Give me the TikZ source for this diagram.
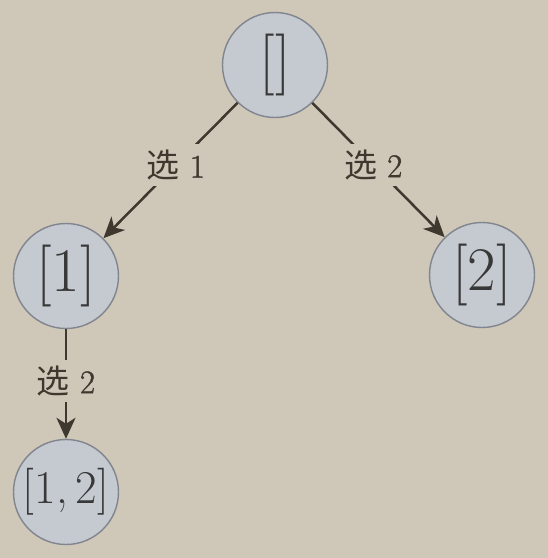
\documentclass[tikz,border=0pt]{standalone}
\usepackage{fontspec}
\newfontfamily\cjk{Noto Sans CJK SC}
\newfontfamily\labelnum[FakeBold=1.2]{Latin Modern Roman}
\usetikzlibrary{arrows.meta}
\definecolor{paper}{RGB}{207,199,184}
\definecolor{nodefill}{RGB}{197,202,208}
\definecolor{nodeedge}{RGB}{128,133,143}
\definecolor{ink}{RGB}{62,56,46}
\tikzset{
  state/.style={circle, draw=nodeedge, line width=1.4pt, fill=nodefill,
    minimum size=105pt, inner sep=0pt, text=black!78,
    font=\fontsize{62}{70}\selectfont},
  smallstate/.style={state, font=\fontsize{47}{54}\selectfont},
  edge/.style={draw=ink, line width=2.5pt, -{Stealth[length=21pt,width=19pt,inset=6pt]}},
  choice/.style={fill=paper, inner sep=6pt, text=ink,
    font=\fontsize{33}{36}\selectfont}
}
\newcommand{\pick}[1]{{\cjk 选}\hspace{10pt}{\labelnum #1}}
\begin{document}
\begin{tikzpicture}[x=1pt,y=-1pt]
  \fill[paper] (0,0) rectangle (548,558);
  \useasboundingbox (0,0) rectangle (548,558);

  \node[state] (root) at (275,65) {[\kern1pt]};
  \node[state] (one) at (66,276) {[1]};
  \node[state] (two) at (482,275) {[2]};
  \node[smallstate] (onetwo) at (66,492) {[1,\,2]};

  \path[edge] (root) -- node[choice, pos=0.46] (l1) {\pick{1}} (one);
  \path[edge] (root) -- node[choice, pos=0.46] (l2) {\pick{2}} (two);
  \path[edge] (one) -- node[choice, pos=0.47] (l3) {\pick{2}} (onetwo);
\end{tikzpicture}
\end{document}
